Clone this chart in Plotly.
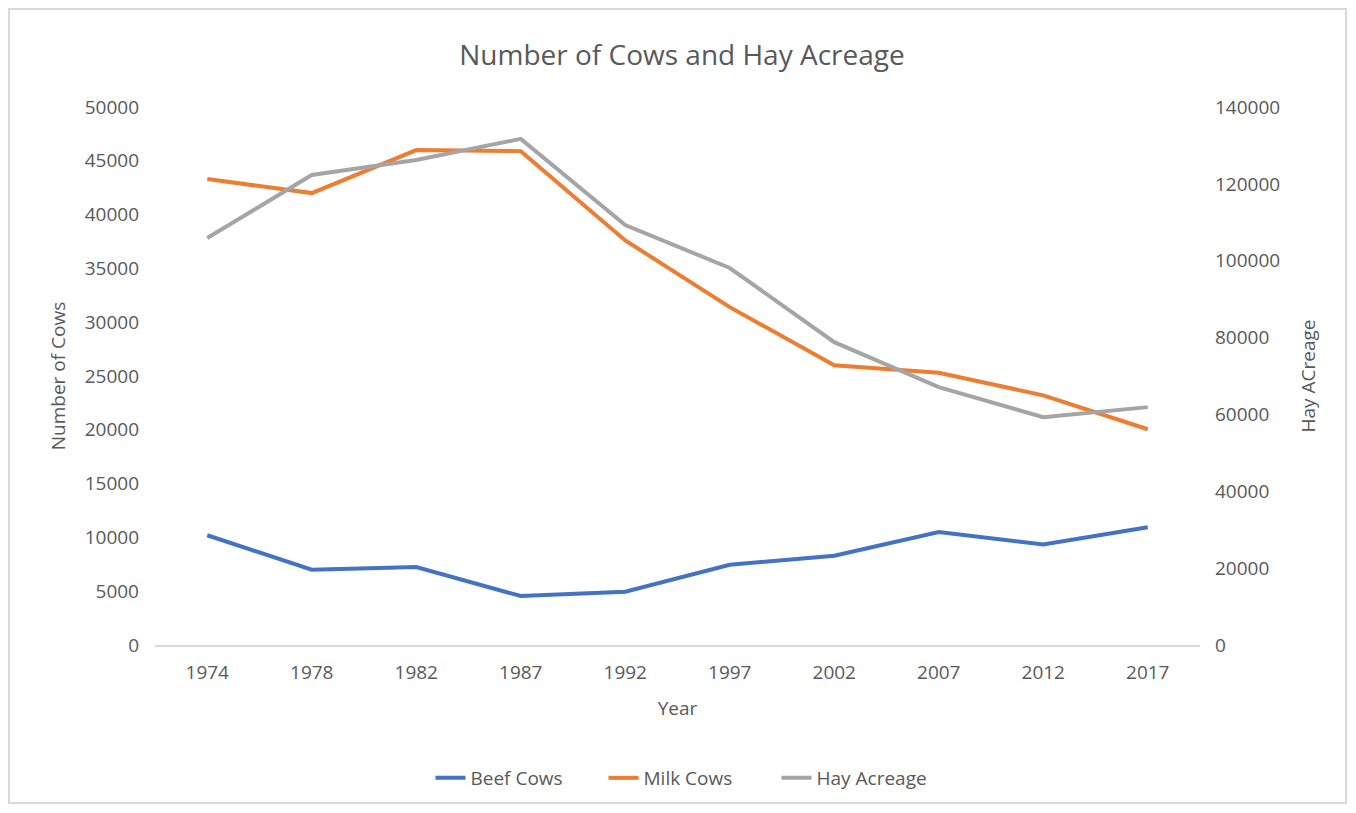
import plotly.graph_objects as go

years = ["1974", "1978", "1982", "1987", "1992", "1997", "2002", "2007", "2012", "2017"]
beef_cows = [10200, 7000, 7250, 4550, 4950, 7450, 8300, 10500, 9350, 10950]
milk_cows = [43300, 42000, 46000, 45900, 37600, 31400, 26000, 25300, 23200, 20050]
hay_acreage = [105900, 122300, 126200, 131700, 109300, 98100, 78800, 67100, 59300, 61900]

font_family = "Open Sans, Liberation Sans, sans-serif"
grey_txt = "#595959"

fig = go.Figure()
fig.add_trace(go.Scatter(x=years, y=beef_cows, name="Beef Cows", mode="lines",
                         line=dict(color="#4472C4", width=4)))
fig.add_trace(go.Scatter(x=years, y=milk_cows, name="Milk Cows", mode="lines",
                         line=dict(color="#ED7D31", width=4)))
fig.add_trace(go.Scatter(x=years, y=hay_acreage, name="Hay Acreage", mode="lines",
                         line=dict(color="#A5A5A5", width=4), yaxis="y2"))

OFF = 8  # page body margin
W, H = 1340, 797
L, R, T, B = 155 - OFF, 1200 - OFF, 107 - OFF, 645 - OFF
pw, ph = R - L, B - T

def px2x(px):
    return (px - OFF - L) / pw

def px2y(py):
    return (B - (py - OFF)) / ph

fig.update_layout(
    width=W, height=H,
    margin=dict(l=L, r=W - R, t=T, b=H - B, pad=0, autoexpand=False),
    paper_bgcolor="white", plot_bgcolor="white",
    font=dict(family=font_family, color=grey_txt, size=19),
    title=dict(text="Number of Cows and Hay Acreage", x=px2x(682), xref="paper", xanchor="center",
               y=1 - (55 - OFF) / H, yanchor="middle",
               font=dict(size=28, color=grey_txt, family=font_family)),
    xaxis=dict(type="category", range=[-0.5, 9.5], showgrid=False, automargin=False,
               showline=True, linecolor="#D9D9D9", linewidth=2,
               ticks="", tickfont=dict(size=19, color=grey_txt), ticklabelstandoff=9,
               title=dict(text="Year", font=dict(size=19, color=grey_txt), standoff=18),
               zeroline=False, fixedrange=True),
    yaxis=dict(range=[0, 50000], dtick=5000, tickformat="d", showgrid=False, zeroline=False,
               automargin=False,
               showline=False, ticks="", tickfont=dict(size=19, color=grey_txt),
               ticklabelstandoff=15,
               title=dict(text="Number of Cows", font=dict(size=19, color=grey_txt), standoff=14)),
    yaxis2=dict(range=[0, 140000], dtick=20000, tickformat="d", overlaying="y", side="right",
                automargin=False,
                showgrid=False, zeroline=False, showline=False, ticks="",
                tickfont=dict(size=19, color=grey_txt), ticklabelstandoff=14,
                title=dict(text="Hay ACreage", font=dict(size=19, color=grey_txt), standoff=22)),
    legend=dict(orientation="h", x=px2x(690), xanchor="center", y=px2y(778), yanchor="middle",
                font=dict(size=19, color=grey_txt), tracegroupgap=0,
                entrywidth=128, entrywidthmode="pixels"),
    showlegend=True,
)

fig.add_shape(type="rect", xref="paper", yref="paper",
              x0=px2x(9), x1=px2x(1346), y0=px2y(803), y1=px2y(9),
              line=dict(color="#D9D9D9", width=2), fillcolor="rgba(0,0,0,0)", layer="below")

fig.write_html("out.html")
